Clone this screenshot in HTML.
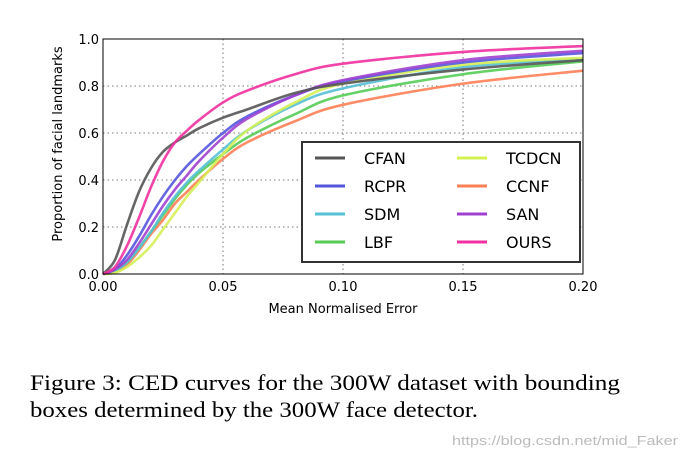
<!DOCTYPE html>
<html><head><meta charset="utf-8"><style>
body{margin:0;background:#fff;}
svg{display:block;font-family:"DejaVu Sans","Liberation Sans",sans-serif;}
</style></head><body>
<svg width="684" height="461" viewBox="0 0 684 461" id="fig">
<g id="grid"></g>
<g id="series"></g>
<rect x="103" y="39" width="480" height="235" fill="none" stroke="#000" stroke-width="1"/>
<g id="ticks"></g>
<text x="75" y="157" transform="rotate(-90 62 157)" font-size="13" text-anchor="middle">Proportion of facial landmarks</text>
<text x="343" y="313" font-size="13" text-anchor="middle">Mean Normalised Error</text>
<g id="legend">
<rect x="302" y="142" width="278" height="120" fill="#fff" stroke="#333" stroke-width="2"/>
</g>
<text x="30" y="390" font-family="Liberation Serif,serif" font-size="22" textLength="590" lengthAdjust="spacingAndGlyphs">Figure 3: CED curves for the 300W dataset with bounding</text>
<text x="30" y="417" font-family="Liberation Serif,serif" font-size="22" textLength="448" lengthAdjust="spacingAndGlyphs">boxes determined by the 300W face detector.</text>
<text x="452" y="445" font-family="Liberation Sans,sans-serif" font-size="13" fill="#bbb" textLength="226" lengthAdjust="spacingAndGlyphs">https://blog.csdn.net/mid_Faker</text>
</svg>
<script>
const xs=[0,0.005,0.01,0.015,0.02,0.025,0.03,0.035,0.04,0.05,0.06,0.08,0.10,0.15,0.20];
const names=["CFAN","RCPR","SDM","LBF","TCDCN","CCNF","SAN","OURS"];
const colors=["#555555","#5555dd","#55c0d5","#55cc55","#d5f055","#ff8055","#a040d0","#f030a0"];
const cfan=[0,0.06,0.21,0.35,0.45,0.52,0.56,0.59,0.62,0.665,0.70,0.77,0.81,0.87,0.91];
const rcpr=[0,0.02,0.08,0.16,0.25,0.33,0.40,0.46,0.51,0.60,0.67,0.76,0.82,0.90,0.94];
const sdm=[0,0.015,0.05,0.11,0.18,0.26,0.33,0.39,0.44,0.53,0.61,0.72,0.79,0.88,0.915];
const lbf=[0,0.015,0.05,0.11,0.18,0.25,0.32,0.38,0.43,0.51,0.58,0.68,0.76,0.85,0.905];
const tcdcn=[0,0.005,0.03,0.07,0.12,0.19,0.26,0.33,0.39,0.51,0.61,0.73,0.81,0.89,0.92];
const ccnf=[0,0.01,0.04,0.10,0.17,0.23,0.30,0.35,0.40,0.49,0.56,0.65,0.72,0.81,0.865];
const san=[0,0.02,0.06,0.13,0.21,0.29,0.36,0.42,0.48,0.58,0.66,0.76,0.825,0.91,0.95];
const ours=[0,0.03,0.12,0.24,0.37,0.48,0.56,0.61,0.655,0.73,0.78,0.85,0.895,0.945,0.97];
const xticks=[0,0.05,0.10,0.15,0.20];
const xtickLabels=["0.00","0.05","0.10","0.15","0.20"];
const yticks=[0,0.2,0.4,0.6,0.8,1.0];
const ytickLabels=["0.0","0.2","0.4","0.6","0.8","1.0"];
const all=[cfan,rcpr,sdm,lbf,tcdcn,ccnf,san,ours];
const X=v=>103+v*2400, Y=v=>274-v*235;
const NS="http://www.w3.org/2000/svg";
function mk(t,a,p){const e=document.createElementNS(NS,t);for(const k in a)e.setAttribute(k,a[k]);p.appendChild(e);return e;}
const grid=document.getElementById('grid'),ticks=document.getElementById('ticks');
xticks.forEach((v,i)=>{
 const g=mk('line',{x1:X(v),x2:X(v),y1:39,y2:274,stroke:'#777','stroke-dasharray':'1.5,3','stroke-width':1},grid);
 
 
 const t=mk('text',{x:X(v),y:291,'font-size':13,'text-anchor':'middle'},ticks);t.textContent=xtickLabels[i];
 
 
});
yticks.forEach((v,i)=>{
 const g=mk('line',{x1:103,x2:583,y1:Y(v),y2:Y(v),stroke:'#777','stroke-dasharray':'1.5,3','stroke-width':1},grid);
 
 
 const t=mk('text',{x:99,y:Y(v)+5,'font-size':13,'text-anchor':'end'},ticks);t.textContent=ytickLabels[i];
 
 
});
function pathFor(ys){
 const p=xs.map((x,i)=>[X(x),Y(ys[i])]);
 let d='M'+p[0][0]+','+p[0][1];
 for(let i=0;i<p.length-1;i++){
  const p0=p[Math.max(0,i-1)],p1=p[i],p2=p[i+1],p3=p[Math.min(p.length-1,i+2)];
  const c1=[p1[0]+(p2[0]-p0[0])/6,p1[1]+(p2[1]-p0[1])/6];
  const c2=[p2[0]-(p3[0]-p1[0])/6,p2[1]-(p3[1]-p1[1])/6];
  d+=' C'+c1+' '+c2+' '+p2;
 }
 return d;
}
const series=document.getElementById('series');
const order=[5,3,2,4,1,6,0,7];
order.forEach(i=>{
 const e=mk('path',{d:pathFor(all[i]),fill:'none',stroke:colors[i],'stroke-width':2.6,opacity:0.9},series);
 
 
});
const leg=document.getElementById('legend');
names.forEach((n,i)=>{
 const col=Math.floor(i/4),row=i%4;
 const lx=col?457:315,ty=158+row*28;
 const l=mk('line',{x1:lx,x2:lx+30,y1:ty,y2:ty,stroke:colors[i],'stroke-width':3},leg);
 
 
 const t=mk('text',{x:lx+49,y:ty+6,'font-size':16},leg);t.textContent=n;
 
 
});
</script>
</body></html>
